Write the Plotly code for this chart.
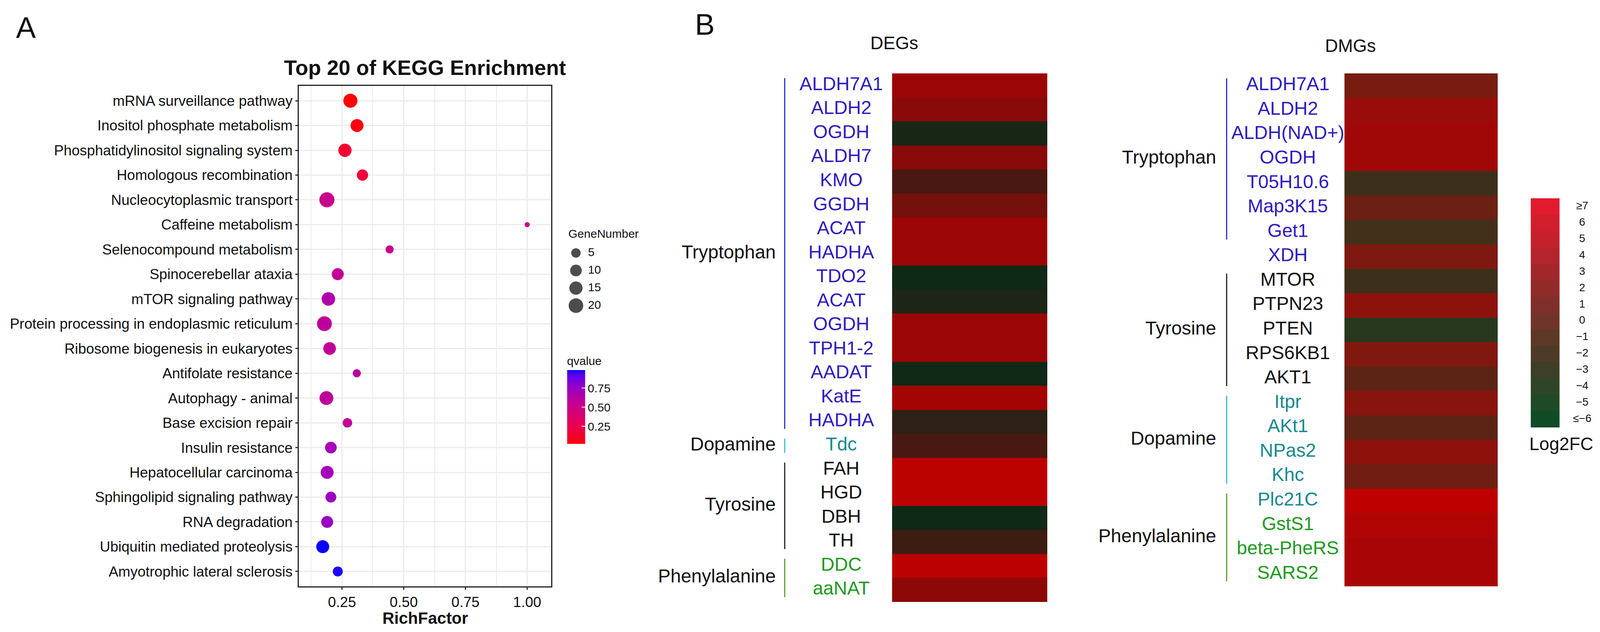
import numpy as np
import plotly.graph_objects as go

W, H = 4131, 1619
FONT = "Liberation Sans, Arial, Helvetica, sans-serif"

# ---------------- panel A : KEGG enrichment ----------------
pathways = ["mRNA surveillance pathway", "Inositol phosphate metabolism",
            "Phosphatidylinositol signaling system", "Homologous recombination",
            "Nucleocytoplasmic transport", "Caffeine metabolism",
            "Selenocompound metabolism", "Spinocerebellar ataxia",
            "mTOR signaling pathway", "Protein processing in endoplasmic reticulum",
            "Ribosome biogenesis in eukaryotes", "Antifolate resistance",
            "Autophagy - animal", "Base excision repair", "Insulin resistance",
            "Hepatocellular carcinoma", "Sphingolipid signaling pathway",
            "RNA degradation", "Ubiquitin mediated proteolysis",
            "Amyotrophic lateral sclerosis"]
rich_factor = [0.284, 0.311, 0.262, 0.333, 0.189, 1.0, 0.443, 0.233, 0.195, 0.179,
               0.200, 0.310, 0.187, 0.272, 0.205, 0.190, 0.205, 0.190, 0.172, 0.233]
gene_number = [18, 14, 15, 9, 22, 1, 3, 11, 16, 21, 13, 3, 17, 5, 10, 14, 8, 11, 14, 6]
qvalue = [0.03, 0.05, 0.15, 0.18, 0.52, 0.50, 0.52, 0.55, 0.65, 0.58,
          0.56, 0.60, 0.57, 0.55, 0.70, 0.71, 0.74, 0.75, 0.98, 0.97]
size_legend = [5, 10, 15, 20]
q_ticks = [0.25, 0.50, 0.75]

# ---------------- panel B : heatmaps ----------------
deg_genes = ["ALDH7A1", "ALDH2", "OGDH", "ALDH7", "KMO", "GGDH", "ACAT", "HADHA",
             "TDO2", "ACAT", "OGDH", "TPH1-2", "AADAT", "KatE", "HADHA", "Tdc",
             "FAH", "HGD", "DBH", "TH", "DDC", "aaNAT"]
deg_log2fc = [4.0, 3.0, -4.5, 3.0, 0.0, 2.0, 4.0, 4.0, -5.5, -4.0, 4.0, 4.0,
              -5.5, 4.5, -2.0, 0.0, 6.2, 6.2, -5.5, -1.0, 6.2, 3.2]
deg_class = ["Tryptophan"] * 15 + ["Dopamine"] + ["Tyrosine"] * 4 + ["Phenylalanine"] * 2
deg_groups = [("Tryptophan", 0, 14), ("Dopamine", 15, 15),
              ("Tyrosine", 16, 19), ("Phenylalanine", 20, 21)]

dmg_genes = ["ALDH7A1", "ALDH2", "ALDH(NAD+)", "OGDH", "T05H10.6", "Map3K15", "Get1",
             "XDH", "MTOR", "PTPN23", "PTEN", "RPS6KB1", "AKT1", "Itpr", "AKt1",
             "NPas2", "Khc", "Plc21C", "GstS1", "beta-PheRS", "SARS2"]
dmg_log2fc = [2.5, 4.6, 5.0, 5.0, -1.0, 1.8, -0.3, 2.8, -1.0, 4.0, -3.0, 3.0,
              1.0, 3.6, 1.0, 4.0, 2.0, 7.0, 6.0, 5.5, 5.5]
dmg_class = ["Tryptophan"] * 8 + ["Tyrosine"] * 5 + ["Dopamine"] * 5 + ["Phenylalanine"] * 3
dmg_groups = [("Tryptophan", 0, 6), ("Tyrosine", 8, 12),
              ("Dopamine", 13, 16), ("Phenylalanine", 17, 20)]

fc_levels = [7, 6, 5, 4, 3, 2, 1, 0, -1, -2, -3, -4, -5, -6]
fc_labels = ["≥7", "6", "5", "4", "3", "2", "1", "0", "−1", "−2", "−3", "−4", "−5", "≤−6"]

# ---------------- styles ----------------
text_col = {"Tryptophan": "#2E1CC0", "Dopamine": "#17888F",
            "Tyrosine": "#111111", "Phenylalanine": "#1E9A1E"}
line_col = {"Tryptophan": "#2B2BC8", "Dopamine": "#2DBFCF",
            "Tyrosine": "#222222", "Phenylalanine": "#5A9E2A"}
deg_scale = [(-6, "#0B2A17"), (-2, "#2D2014"), (0, "#4A1812"), (2, "#74100C"),
             (4, "#9C0505"), (7, "#C80000")]
dmg_scale = [(-6, "#103F1C"), (-3, "#27381E"), (-1, "#3D301A"), (0, "#44301A"),
             (1, "#5C2415"), (2, "#701E12"), (3, "#801810"), (4, "#8E120C"),
             (5, "#A00807"), (6, "#B00404"), (7, "#BE0000")]
fc_colors = ["#E11B2D", "#D11F2E", "#C4212D", "#B4242C", "#A2272B", "#912B2A", "#7F302A",
             "#70342A", "#5E3827", "#4E3B27", "#3E3F27", "#2F4528", "#1E4A28", "#0E4C27"]


def px_x(p):
    return p / W


def px_y(p):
    return 1 - p / H


def norm_scale(stops, lo=-6, hi=7):
    return [[(v - lo) / (hi - lo), c] for v, c in stops]


def step_scale(levels, colors, lo=-6, hi=7):
    h = 0.5 / (hi - lo)
    out = []
    for v, c in sorted(zip(levels, colors)):
        p = (v - lo) / (hi - lo)
        out += [[max(0, p - h), c], [min(1, p + h), c]]
    return out


# ggplot-like red -> blue gradient interpolated in CIELAB
def hex_rgb(h):
    return np.array([int(h[i:i + 2], 16) for i in (1, 3, 5)]) / 255.0


M = np.array([[0.4124, 0.3576, 0.1805], [0.2126, 0.7152, 0.0722], [0.0193, 0.1192, 0.9505]])
WP = np.array([0.95047, 1.0, 1.08883])


def to_lab(rgb):
    lin = np.where(rgb <= 0.04045, rgb / 12.92, ((rgb + 0.055) / 1.055) ** 2.4)
    xyz = M @ lin / WP
    f = np.where(xyz > 0.008856, np.cbrt(xyz), 7.787 * xyz + 16 / 116)
    return np.array([116 * f[1] - 16, 500 * (f[0] - f[1]), 200 * (f[1] - f[2])])


def from_lab(lab):
    fy = (lab[0] + 16) / 116
    f = np.array([fy + lab[1] / 500, fy, fy - lab[2] / 200])
    xyz = np.where(f ** 3 > 0.008856, f ** 3, (f - 16 / 116) / 7.787) * WP
    lin = np.clip(np.linalg.solve(M, xyz), 0, 1)
    rgb = np.where(lin <= 0.0031308, lin * 12.92, 1.055 * lin ** (1 / 2.4) - 0.055)
    r, g, b = (np.clip(rgb, 0, 1) * 255).round().astype(int)
    return f"rgb({r},{g},{b})"


lab_lo, lab_hi = to_lab(hex_rgb("#FF0000")), to_lab(hex_rgb("#0000FF"))
q_scale = [[t, from_lab(lab_lo + t * (lab_hi - lab_lo))] for t in np.linspace(0, 1, 21)]


def dot_size(n):
    return 13 + 5.6 * np.sqrt(np.asarray(n, dtype=float) - 1)


fig = go.Figure()

# panel A dots
fig.add_trace(go.Scatter(
    x=rich_factor, y=pathways, mode="markers", xaxis="x", yaxis="y",
    marker=dict(size=dot_size(gene_number), color=qvalue, colorscale=q_scale,
                cmin=0.025, cmax=0.987, opacity=1, line=dict(width=0),
                colorbar=dict(x=px_x(1464), xanchor="left", y=px_y(1023), yanchor="middle",
                              len=227, lenmode="pixels", thickness=46, thicknessmode="pixels",
                              xpad=0, ypad=0, outlinewidth=0,
                              tickvals=q_ticks, ticktext=[f"{v:.2f}" for v in q_ticks],
                              ticks="inside", ticklen=9, tickwidth=2, tickcolor="white",
                              tickfont=dict(size=30, color="#111"),
                              title=dict(text="qvalue", side="top",
                                         font=dict(size=30, color="#111"))))))

# GeneNumber size legend
fig.add_trace(go.Scatter(
    x=[1487] * len(size_legend), y=[648 + 45 * i for i in range(len(size_legend))],
    xaxis="x5", yaxis="y5", mode="markers", cliponaxis=False,
    marker=dict(size=dot_size(size_legend), color="black", line=dict(width=0))))
fig.add_trace(go.Scatter(
    x=[1518] * len(size_legend), y=[648 + 45 * i for i in range(len(size_legend))],
    xaxis="x5", yaxis="y5", mode="text", cliponaxis=False,
    text=[str(v) for v in size_legend], textposition="middle right",
    textfont=dict(size=30, color="#111")))

# heatmaps
fig.add_trace(go.Heatmap(z=[[v] for v in deg_log2fc], x=[0], y=list(range(len(deg_genes))),
                         xaxis="x2", yaxis="y2", zmin=-6, zmax=7,
                         colorscale=norm_scale(deg_scale), showscale=False))
fig.add_trace(go.Heatmap(z=[[v] for v in dmg_log2fc], x=[0], y=list(range(len(dmg_genes))),
                         xaxis="x3", yaxis="y3", zmin=-6, zmax=7,
                         colorscale=norm_scale(dmg_scale), showscale=False))
fig.add_trace(go.Heatmap(z=[[v] for v in fc_levels], x=[0], y=list(range(len(fc_levels))),
                         xaxis="x4", yaxis="y4", zmin=-6, zmax=7,
                         colorscale=step_scale(fc_levels, fc_colors), showscale=False))
fig.add_trace(go.Scatter(x=[4085] * len(fc_labels), y=list(range(len(fc_labels))),
                         xaxis="x5", yaxis="y4", mode="text", text=fc_labels,
                         cliponaxis=False, textfont=dict(size=28, color="#111")))

# gene labels, group labels and brackets
for genes, cls, groups, yax, gx, lx, bx in [
        (deg_genes, deg_class, deg_groups, "y2", 2172, 2003, 2026),
        (dmg_genes, dmg_class, dmg_groups, "y3", 3325, 3140, 3167)]:
    fig.add_trace(go.Scatter(x=[gx] * len(genes), y=list(range(len(genes))),
                             xaxis="x5", yaxis=yax, mode="text", text=genes, cliponaxis=False,
                             textfont=dict(size=48, color=[text_col[c] for c in cls])))
    fig.add_trace(go.Scatter(x=[lx] * len(groups), y=[(s + e) / 2 for _, s, e in groups],
                             xaxis="x5", yaxis=yax, mode="text", cliponaxis=False,
                             text=[g for g, _, _ in groups], textposition="middle left",
                             textfont=dict(size=48, color="#111")))
    for g, s, e in groups:
        fig.add_trace(go.Scatter(x=[bx, bx], y=[s - 0.3, e + 0.3], xaxis="x5", yaxis=yax,
                                 mode="lines", line=dict(color=line_col[g], width=3)))

hidden = dict(visible=False, fixedrange=True)
fig.update_layout(
    width=W, height=H, autosize=False, showlegend=False,
    margin=dict(l=0, r=0, t=0, b=0, pad=0),
    paper_bgcolor="white", plot_bgcolor="rgba(0,0,0,0)",
    font=dict(family=FONT, color="#111"),
    xaxis=dict(domain=[px_x(772), px_x(1423)], range=[0.076, 1.097], anchor="y",
               tick0=0, dtick=0.25, tickformat=".2f", showgrid=True,
               gridcolor="#EBEBEB", gridwidth=3, zeroline=False,
               minor=dict(tick0=0.125, dtick=0.25, showgrid=True, gridcolor="#EBEBEB", gridwidth=1.5),
               showline=True, mirror=True, linecolor="#222", linewidth=3,
               ticks="outside", ticklen=6, tickwidth=2.5, tickcolor="#333",
               tickfont=dict(size=37, color="#111")),
    yaxis=dict(domain=[px_y(1502), px_y(220)], anchor="x", type="category",
               categoryorder="array", categoryarray=pathways, range=[19.6, -0.6],
               showgrid=True, gridcolor="#EBEBEB", gridwidth=3, zeroline=False,
               showline=True, mirror=True, linecolor="#222", linewidth=3,
               ticks="outside", ticklen=6, tickwidth=2.5, tickcolor="#333",
               tickfont=dict(size=37, color="#111")),
    xaxis2=dict(domain=[px_x(2303), px_x(2704)], range=[-0.5, 0.5], anchor="y2", **hidden),
    yaxis2=dict(domain=[px_y(1542), px_y(188)], range=[len(deg_genes) - 0.5, -0.5], anchor="x2", **hidden),
    xaxis3=dict(domain=[px_x(3471), px_x(3867)], range=[-0.5, 0.5], anchor="y3", **hidden),
    yaxis3=dict(domain=[px_y(1502), px_y(188)], range=[len(dmg_genes) - 0.5, -0.5], anchor="x3", **hidden),
    xaxis4=dict(domain=[px_x(3952), px_x(4027)], range=[-0.5, 0.5], anchor="y4", **hidden),
    yaxis4=dict(domain=[px_y(1095), px_y(508)], range=[len(fc_levels) - 0.5, -0.5], anchor="x4", **hidden),
    xaxis5=dict(domain=[0, 1], range=[0, W], anchor="free", position=0, **hidden),
    yaxis5=dict(domain=[0, 1], range=[H, 0], anchor="free", position=0, **hidden),
)


def note(text, x, y, size, xanchor="center", bold=False):
    fig.add_annotation(text=f"<b>{text}</b>" if bold else text, x=px_x(x), y=px_y(y),
                       xref="paper", yref="paper", xanchor=xanchor, yanchor="middle",
                       showarrow=False, font=dict(size=size, color="#111", family=FONT))


note("A", 67, 71, 76)
note("B", 1820, 62, 76)
note("Top 20 of KEGG Enrichment", 1097, 173, 54, bold=True)
note("RichFactor", 1098, 1583, 42, bold=True)
note("GeneNumber", 1465, 598, 30, xanchor="left")
note("DEGs", 2309, 110, 46)
note("DMGs", 3487, 117, 46)
note("Log2FC", 4031, 1137, 46)

# drop the page margin/scrollbars and fit the figure to the visible window
fit_js = ("document.body.style.margin='0';"
          "document.body.style.overflow='hidden';"
          "var gd=document.getElementById('{plot_id}');"
          "gd.style.width=window.innerWidth+'px';gd.style.height=window.innerHeight+'px';"
          "Plotly.relayout(gd,{width:window.innerWidth,height:window.innerHeight});")
fig.write_html("out.html", config={"displayModeBar": False}, post_script=fit_js)
